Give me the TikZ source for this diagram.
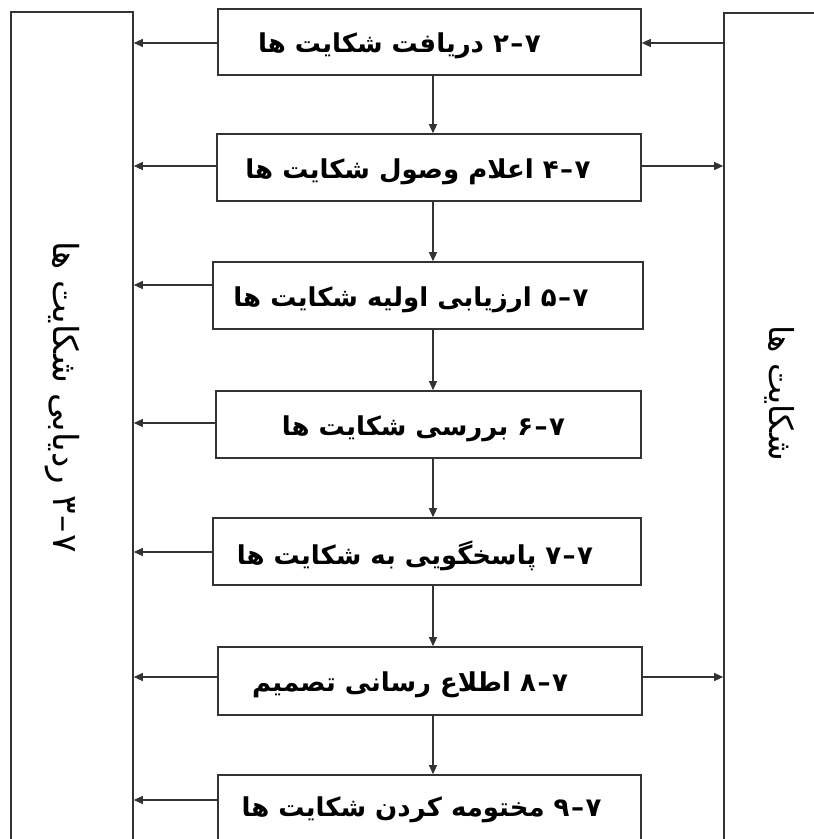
\documentclass[tikz,border=0pt]{standalone}
\usepackage{fontspec}
\newfontfamily\arabicfont[Script=Arabic]{DejaVu Sans}
\TeXXeTstate=1
\usetikzlibrary{arrows.meta}
\newcommand{\nm}[2]{\beginL #1\kern1.5pt–\kern1.5pt#2\endL}
\begin{document}
\begin{tikzpicture}[x=1pt,y=-1pt,
  frame/.style={draw=black!80,line width=1.6pt,inner sep=0pt},
  box/.style={draw=black!80,line width=1.6pt,fill=white,inner sep=0pt,minimum height=66pt},
  lbl/.style={font=\arabicfont\bfseries\fontsize{26}{30}\selectfont,inner sep=0pt},
  arr/.style={draw=black!80,line width=1.2pt,-{Triangle[length=9pt,width=8pt]}},
  side/.style={font=\arabicfont\fontsize{33}{36}\selectfont,rotate=-90,inner sep=0pt}]
\useasboundingbox (0,0) rectangle (814,839);
\clip (0,0) rectangle (814,839);
% side frames (open at the bottom, cut by the page)
\node[frame,minimum width=122pt,minimum height=860pt] (L) at (72,442) {};
\node[frame,minimum width=200pt,minimum height=860pt] (R) at (824,443) {};
\node[side,font=\arabicfont\fontsize{34.5}{38}\selectfont] (Lt) at (62,397) {\beginR\nm{۳}{۷} ردیابی شکایت ها\endR};
\node[side] (Rt) at (780,393) {\beginR شکایت ها\endR};
% process boxes
\node[box,minimum width=423pt] (b1) at (429.5,42) {};
\node[box,minimum width=424pt,minimum height=67pt] (b2) at (429,167.5) {};
\node[box,minimum width=430pt,minimum height=67pt] (b3) at (428,295.5) {};
\node[box,minimum width=425pt,minimum height=67pt] (b4) at (428.5,424.5) {};
\node[box,minimum width=428pt,minimum height=67pt] (b5) at (427,551.5) {};
\node[box,minimum width=424pt,minimum height=68pt] (b6) at (430,681) {};
\node[box,minimum width=423pt,minimum height=70pt] (b7) at (429.5,810) {};
% box texts
\node[lbl] (t1) at ([xshift=-30pt,yshift=-4pt]b1.center) {\beginR\nm{۲}{۷} دریافت شکایت ها\endR};
\node[lbl] (t2) at ([xshift=-11pt,yshift=-4pt]b2.center) {\beginR\nm{۴}{۷} اعلام وصول شکایت ها\endR};
\node[lbl] (t3) at ([xshift=-17pt,yshift=-4pt]b3.center) {\beginR\nm{۵}{۷} ارزیابی اولیه شکایت ها\endR};
\node[lbl] (t4) at ([xshift=-5pt,yshift=-4pt]b4.center) {\beginR\nm{۶}{۷} بررسی شکایت ها\endR};
\node[lbl] (t5) at ([xshift=-12pt,yshift=-4pt]b5.center) {\beginR\nm{۷}{۷} پاسخگویی به شکایت ها\endR};
\node[lbl] (t6) at ([xshift=-20pt,yshift=-4pt]b6.center) {\beginR\nm{۸}{۷} اطلاع رسانی تصمیم\endR};
\node[lbl] (t7) at ([xshift=-8pt,yshift=0pt]b7.center) {\beginR\nm{۹}{۷} مختومه کردن شکایت ها\endR};
% helper coordinates
\coordinate (cx) at (433,0);
\coordinate (y1) at (0,43);
\coordinate (y2) at (0,166);
\coordinate (y3) at (0,285);
\coordinate (y4) at (0,423);
\coordinate (y5) at (0,552);
\coordinate (y6) at (0,677);
\coordinate (y7) at (0,800);
% down arrows
\draw[arr] (b1.south -| cx) -- (b2.north -| cx);
\draw[arr] (b2.south -| cx) -- (b3.north -| cx);
\draw[arr] (b3.south -| cx) -- (b4.north -| cx);
\draw[arr] (b4.south -| cx) -- (b5.north -| cx);
\draw[arr] (b5.south -| cx) -- (b6.north -| cx);
\draw[arr] (b6.south -| cx) -- (b7.north -| cx);
% arrows to the tracking frame
\draw[arr] (b1.west |- y1) -- (L.east |- y1);
\draw[arr] (b2.west |- y2) -- (L.east |- y2);
\draw[arr] (b3.west |- y3) -- (L.east |- y3);
\draw[arr] (b4.west |- y4) -- (L.east |- y4);
\draw[arr] (b5.west |- y5) -- (L.east |- y5);
\draw[arr] (b6.west |- y6) -- (L.east |- y6);
\draw[arr] (b7.west |- y7) -- (L.east |- y7);
% arrows with the complaints frame
\draw[arr] (R.west |- y1) -- (b1.east |- y1);
\draw[arr] (b2.east |- y2) -- (R.west |- y2);
\draw[arr] (b6.east |- y6) -- (R.west |- y6);
\end{tikzpicture}
\end{document}
